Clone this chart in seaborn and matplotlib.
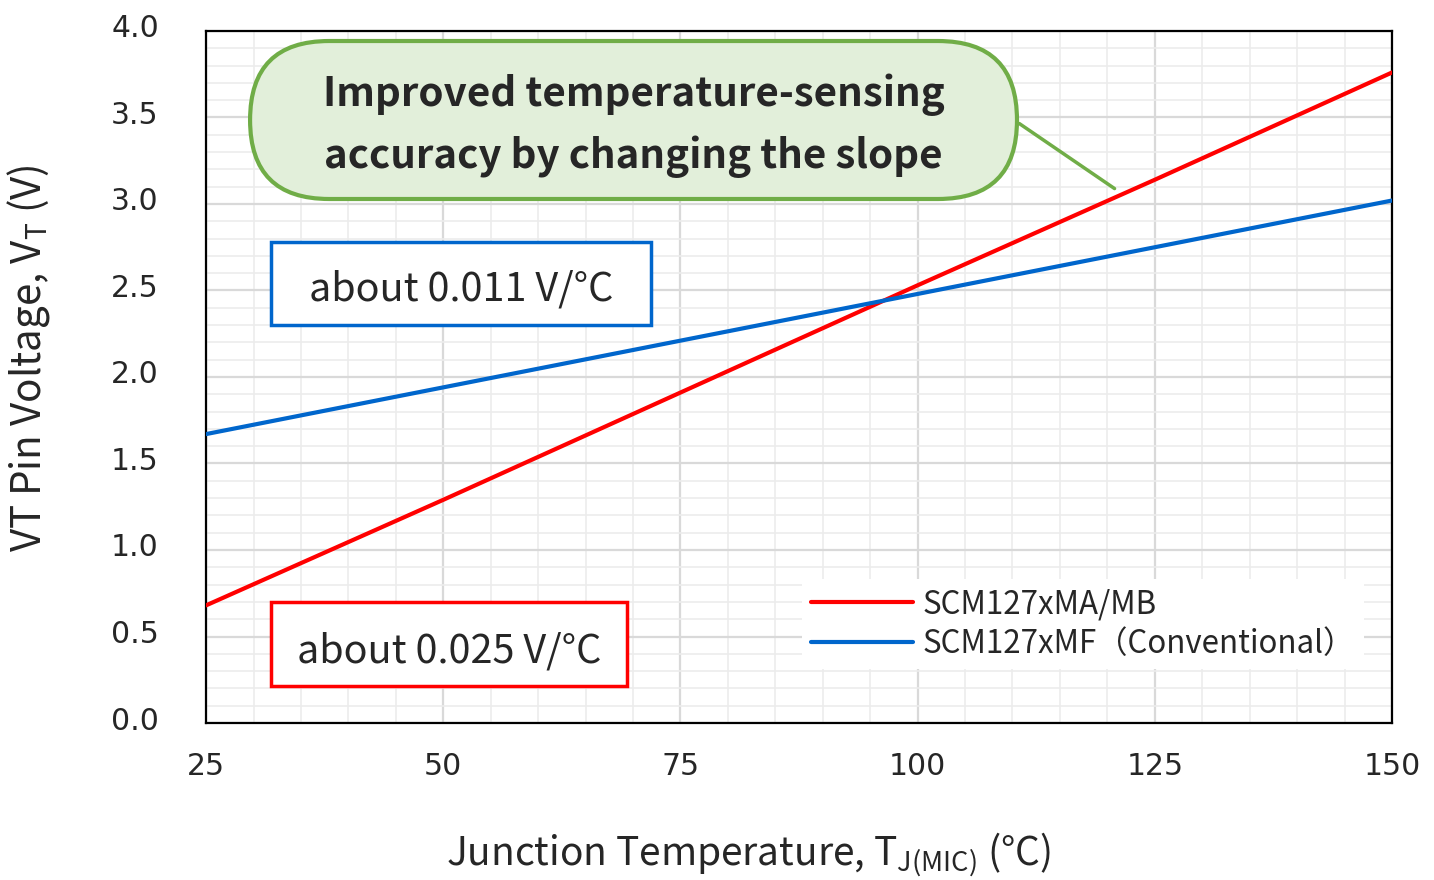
import numpy as np
import pandas as pd
import seaborn as sns
import matplotlib.pyplot as plt
import matplotlib.transforms as mtrans
from matplotlib.patches import FancyBboxPatch, Rectangle
from matplotlib.ticker import MultipleLocator

sns.set_theme(style='white')
plt.rcParams['font.family'] = 'DejaVu Sans'   # tick numbers
plt.rcParams['axes.unicode_minus'] = False
JP = ['Noto Sans CJK JP', 'DejaVu Sans']      # everything else

# values
temps = [25, 50, 75, 100, 125, 150]
vt_new = [0.68, 1.29, 1.91, 2.53, 3.14, 3.76]   # SCM127xMA/MB
vt_old = [1.67, 1.94, 2.21, 2.48, 2.75, 3.02]   # SCM127xMF
series = ['SCM127xMA/MB', 'SCM127xMF\uff08Conventional\uff09']
colors = ['#FF0000', '#0066CC']
x_ticks = [25, 50, 75, 100, 125, 150]
y_ticks = [0.0, 0.5, 1.0, 1.5, 2.0, 2.5, 3.0, 3.5, 4.0]

df = pd.DataFrame({
    'T': temps + temps,
    'V': vt_new + vt_old,
    'part': [series[0]] * len(temps) + [series[1]] * len(temps),
})

fig = plt.figure(figsize=(14.34, 8.8), dpi=100)
ax = fig.add_axes([0.1437, 0.1784, 0.8270, 0.7864])

sns.lineplot(data=df, x='T', y='V', hue='part', hue_order=series,
             palette=colors, lw=3, ax=ax, zorder=3)

ax.set_xlim(25, 150)
ax.set_ylim(0, 4)
ax.set_xticks(x_ticks)
ax.set_yticks(y_ticks)
ax.set_yticklabels([f'{v:.1f}' for v in y_ticks])
ax.xaxis.set_minor_locator(MultipleLocator(5))
ax.yaxis.set_minor_locator(MultipleLocator(0.1))
ax.grid(which='minor', color='#ececec', lw=1.2, zorder=0)
ax.grid(which='major', color='#d9d9d9', lw=1.6, zorder=0)
ax.set_axisbelow(True)
ax.tick_params(which='both', length=0)
ax.tick_params(axis='x', labelsize=21.5, pad=21)
ax.tick_params(axis='y', labelsize=21.5, pad=34)
# y tick labels sit a few pixels above their gridlines in the original
off = mtrans.ScaledTranslation(0, 5 / 100, fig.dpi_scale_trans)
for t in ax.yaxis.get_major_ticks():
    t.label1.set_transform(t.label1.get_transform() + off)
for s in ax.spines.values():
    s.set_color('black')
    s.set_linewidth(1.6)

ax.set_xlabel(r'Junction Temperature, T$_{\mathregular{J(MIC)}}$ (°C)',
              fontsize=28, va='center', family=JP)
ax.set_ylabel(r'VT Pin Voltage, V$_{\mathregular{T}}$ (V)',
              fontsize=29, va='center', family=JP)
ax.xaxis.set_label_coords(0.457, -0.191)
ax.yaxis.set_label_coords(-0.150, 0.527)

# callout
w_px, h_px = 1186, 692
call = FancyBboxPatch((0.0371, 0.7572), 0.6467, 0.2283,
                      boxstyle='round,pad=0,rounding_size=0.0666',
                      mutation_aspect=w_px / h_px,
                      transform=ax.transAxes, fc='#E2EFDA', ec='#70AD47',
                      lw=3, zorder=5)
ax.add_patch(call)
ax.text(0.3604, 0.863, 'Improved temperature-sensing\naccuracy by changing the slope',
        transform=ax.transAxes, ha='center', va='center', fontsize=29,
        fontweight='bold', linespacing=1.6, family=JP, zorder=6)
ax.annotate('', xy=(121, 3.08), xycoords='data',
            xytext=(0.6838, 0.8685), textcoords='axes fraction',
            arrowprops=dict(arrowstyle='-', color='#70AD47', lw=2.5),
            zorder=4)

# slope boxes
ax.add_patch(Rectangle((0.0548, 0.5751), 0.3204, 0.1200, transform=ax.transAxes,
                       fc='white', ec='#0066CC', lw=2.5, zorder=5))
ax.text(0.2150, 0.626, 'about 0.011 V/°C', transform=ax.transAxes,
        ha='center', va='center', fontsize=28.5, family=JP, zorder=6)
ax.add_patch(Rectangle((0.0548, 0.0535), 0.3002, 0.1214, transform=ax.transAxes,
                       fc='white', ec='#FF0000', lw=2.5, zorder=5))
ax.text(0.2049, 0.104, 'about 0.025 V/°C', transform=ax.transAxes,
        ha='center', va='center', fontsize=28.5, family=JP, zorder=6)

leg = ax.legend(loc='lower right', bbox_to_anchor=(0.990, 0.055),
                prop={'family': JP, 'size': 22.5},
                frameon=True, facecolor='white', edgecolor='none', framealpha=1,
                handlelength=3.27, handletextpad=0.3, labelspacing=0.25,
                borderpad=0.3, fancybox=False)
for line in leg.get_lines():
    line.set_linewidth(3)

fig.savefig('out.png', dpi=100)
